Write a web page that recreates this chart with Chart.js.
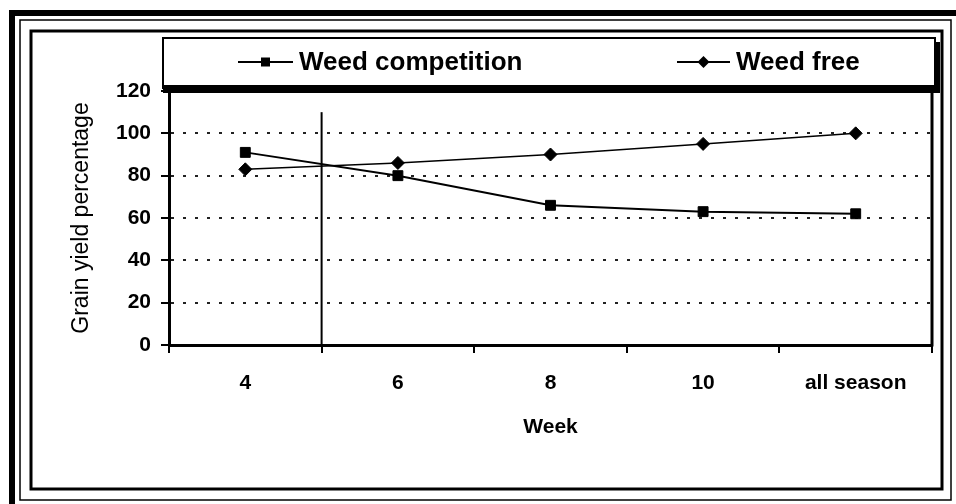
<!DOCTYPE html>
<html><head><meta charset="utf-8">
<script src="https://cdn.jsdelivr.net/npm/chart.js@4/dist/chart.umd.min.js"></script>
<style>html,body{margin:0;padding:0;background:#fff;}#wrap{width:956px;height:504px;}</style>
</head><body><div id="wrap"><canvas id="c" width="956" height="504"></canvas></div>
<script>
const categories = ['4', '6', '8', '10', 'all season'];
const weedCompetition = [91, 80, 66, 63, 62];
const weedFree = [83, 86, 90, 95, 100];
const yTicks = [0, 20, 40, 60, 80, 100, 120];
const seriesNames = ['Weed competition', 'Weed free'];
const markerWeek = 0.5;      // category position of week 5 (between 4 and 6)
const markerTop = 110;       // top of the vertical marker line (y value)

const FONT = "'Liberation Sans', Arial, sans-serif";

const decor = {
  id: 'decor',
  beforeDraw(chart) {
    const c = chart.ctx;
    c.save(); c.fillStyle = '#fff'; c.fillRect(0, 0, chart.width, chart.height); c.restore();
  },
  afterDatasetsDraw(chart) {
    const c = chart.ctx, xs = chart.scales.x, ys = chart.scales.y, a = chart.chartArea;
    const px = xs.getPixelForValue(markerWeek);
    c.save();
    c.strokeStyle = '#000'; c.lineWidth = 2;
    c.beginPath(); c.moveTo(px, ys.getPixelForValue(markerTop)); c.lineTo(px, a.bottom); c.stroke();
    c.restore();
  },
  afterDraw(chart) {
    const c = chart.ctx, a = chart.chartArea;
    c.save();
    c.strokeStyle = '#000'; c.fillStyle = '#000';
    // outer frames
    c.lineWidth = 6; c.strokeRect(12, 13, 960, 520);
    c.lineWidth = 1.5; c.strokeRect(20, 20, 931, 480);
    c.lineWidth = 3; c.strokeRect(31, 31, 911, 458);
    // plot area top band and right border
    c.fillRect(163, a.top - 6, 777, 8);
    c.lineWidth = 3;
    c.beginPath(); c.moveTo(a.right, a.top); c.lineTo(a.right, a.bottom + 1.5); c.stroke();
    // legend box + shadow
    c.lineWidth = 2; c.strokeRect(163, 38, 772, 50);
    c.fillRect(935, 42, 5, 49);
    // legend items
    const ds = chart.data.datasets;
    const items = [{x0: 238, x1: 293, style: 'rect'}, {x0: 677, x1: 730, style: 'diamond'}];
    const ly = 62;
    c.font = 'bold 26px ' + FONT; c.textBaseline = 'middle'; c.textAlign = 'left';
    items.forEach((it, i) => {
      c.lineWidth = 2;
      c.beginPath(); c.moveTo(it.x0, ly); c.lineTo(it.x1, ly); c.stroke();
      const mx = (it.x0 + it.x1) / 2;
      c.beginPath();
      if (it.style === 'rect') { c.rect(mx - 4.5, ly - 4.5, 9, 9); }
      else { c.moveTo(mx - 6, ly); c.lineTo(mx, ly - 6); c.lineTo(mx + 6, ly); c.lineTo(mx, ly + 6); c.closePath(); }
      c.fill();
      c.fillText(ds[i].label, it.x1 + 6, ly + 1);
    });
    c.restore();
  }
};

new Chart(document.getElementById('c'), {
  type: 'line',
  data: {
    labels: categories,
    datasets: [
      { label: seriesNames[0], data: weedCompetition, borderColor: '#000', backgroundColor: '#000',
        borderWidth: 2, pointStyle: 'rect', pointRadius: 7, pointBorderWidth: 1, pointBackgroundColor: '#000', tension: 0 },
      { label: seriesNames[1], data: weedFree, borderColor: '#000', backgroundColor: '#000',
        borderWidth: 1.5, pointStyle: 'rectRot', pointRadius: 6.5, pointBorderWidth: 1, pointBackgroundColor: '#000', tension: 0 }
    ]
  },
  options: {
    responsive: false, animation: false,
    layout: { padding: { left: 64, top: 91, right: 24, bottom: 60 } },
    plugins: { legend: { display: false }, tooltip: { enabled: false } },
    scales: {
      x: {
        offset: true,
        grid: { offset: true, drawOnChartArea: false, color: '#000', lineWidth: 2, tickLength: 8 },
        border: { color: '#000', width: 3 },
        ticks: { color: '#000', font: { family: FONT, size: 21, weight: 'bold' }, padding: 18, maxRotation: 0 },
        title: { display: true, text: 'Week', color: '#000', font: { family: FONT, size: 21, weight: 'bold' }, padding: { top: 4, bottom: 4 } },
        afterFit(s) { s.height = 99; }
      },
      y: {
        min: 0, max: 120,
        afterBuildTicks(s) { s.ticks = yTicks.map(v => ({ value: v })); },
        ticks: { color: '#000', font: { family: FONT, size: 21, weight: 'bold' }, padding: 10 },
        grid: {
          color: (ctx) => (ctx.tick && (ctx.tick.value === 0 || ctx.tick.value === 120)) ? 'rgba(0,0,0,0)' : '#222',
          lineWidth: 2, tickColor: '#000', tickWidth: 2, tickLength: 8, tickBorderDash: []
        },
        border: { color: '#000', width: 3, dash: [3, 9] },
        title: { display: true, text: 'Grain yield percentage', color: '#000', font: { family: FONT, size: 23 }, padding: 4 },
        afterFit(s) { s.width = 105; }
      }
    }
  },
  plugins: [decor]
});
</script></body></html>
